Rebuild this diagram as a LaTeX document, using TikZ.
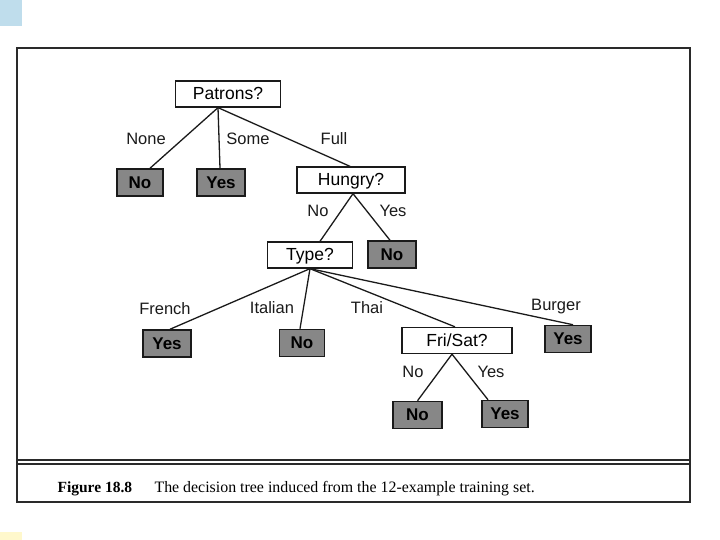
\documentclass[tikz,border=0pt]{standalone}
\usepackage{fontspec}
\setmainfont{Liberation Serif}
\setsansfont{Liberation Sans}
\usetikzlibrary{positioning}
\definecolor{ink}{HTML}{1A1A1A}
\definecolor{leafgray}{HTML}{878787}
\definecolor{framec}{HTML}{2A2A2A}
\definecolor{corner}{HTML}{BFDDEC}
\definecolor{cornery}{HTML}{FFF8CC}

\begin{document}
\begin{tikzpicture}[
  x=1pt, y=-1pt,
  font=\sffamily\fontsize{16.5}{18}\selectfont,
  qbox/.style={draw=ink, fill=white, line width=1.3pt, inner sep=0pt,
               minimum width=#1, minimum height=26pt,
               text height=12.5pt, text depth=1pt,
               font=\sffamily\fontsize{17.5}{19}\selectfont},
  leaf/.style={draw=ink, fill=leafgray, line width=1.5pt, inner sep=0pt,
               minimum width=#1, minimum height=27pt,
               text height=12.5pt, text depth=1pt,
               font=\sffamily\bfseries\fontsize{17}{19}\selectfont},
  lbl/.style={anchor=base, text=ink},
  edge/.style={ink, line width=1.3pt},
]
\useasboundingbox (0,0) rectangle (720,540);

% ─── page corners ───────────────────────────────────────────────────────────
\fill[corner]  (0,0) rectangle (22,26);
\fill[cornery] (0,532) rectangle (22,540);

% ─── figure frame + caption ─────────────────────────────────────────────────
\draw[framec, line width=1.4pt] (17,48) rectangle (690,502);
\draw[framec, line width=1.2pt] (17,460) -- (690,460);
\draw[framec, line width=1.2pt] (17,464) -- (690,464);
\node[anchor=base west, font=\rmfamily\bfseries\fontsize{15.5}{17}\selectfont] (fig) at (54,492) {Figure 18.8};
\node[anchor=base west, font=\rmfamily\fontsize{15.9}{17}\selectfont] (cap) at (151,492)
      {The decision tree induced from the 12-example training set.};

% ─── tree nodes ─────────────────────────────────────────────────────────────
\node[qbox=105pt] (patrons) at (228,94)    {Patrons?};
\node[leaf=46pt]  (none)    at (140,182.5) {No};
\node[leaf=48pt]  (some)    at (221,182.5) {Yes};
\node[qbox=108pt] (hungry)  at (351,180)   {Hungry?};
\node[qbox=85pt]  (type)    at (310,255)   {Type?};
\node[leaf=48pt]  (full)    at (392,254.5) {No};
\node[leaf=48pt]  (french)  at (167,343.5) {Yes};
\node[leaf=45pt]  (italian) at (302,343)   {No};
\node[qbox=110pt] (frisat)  at (457,340.5) {Fri/Sat?};
\node[leaf=46pt]  (burger)  at (568,339)   {Yes};
\node[leaf=49pt]  (fsno)    at (417.5,415) {No};
\node[leaf=46pt]  (fsyes)   at (505,414)   {Yes};

% ─── branches ───────────────────────────────────────────────────────────────
\draw[edge] ([xshift=-10pt]patrons.south) -- ([xshift=10pt]none.north);
\draw[edge] ([xshift=-10pt]patrons.south) -- ([xshift=-1pt]some.north);
\draw[edge] ([xshift=-10pt]patrons.south) -- ([xshift=-1pt]hungry.north);

\draw[edge] ([xshift=2pt]hungry.south) -- ([xshift=10pt]type.north);
\draw[edge] ([xshift=2pt]hungry.south) -- ([xshift=-2pt]full.north);

\draw[edge] (type.south) -- ([xshift=3pt]french.north);
\draw[edge] (type.south) -- ([xshift=-2pt]italian.north);
\draw[edge] (type.south) -- ([xshift=-2pt]frisat.north);
\draw[edge] (type.south) -- ([xshift=5pt]burger.north);

\draw[edge] ([xshift=-5pt]frisat.south) -- (fsno.north);
\draw[edge] ([xshift=-5pt]frisat.south) -- ([xshift=-17pt]fsyes.north);

% ─── branch labels ──────────────────────────────────────────────────────────
\node[lbl] (lnone)  at (146,145) {None};
\node[lbl] (lsome)  at (248,145) {Some};
\node[lbl] (lfull)  at (334,145) {Full};
\node[lbl] (lhno)   at (318,217) {No};
\node[lbl] (lhyes)  at (393,217) {Yes};
\node[lbl] (lfr)    at (165,314) {French};
\node[lbl] (lit)    at (272,313) {Italian};
\node[lbl] (lth)    at (367,313) {Thai};
\node[lbl] (lbu)    at (556,310) {Burger};
\node[lbl] (lfsno)  at (413,377) {No};
\node[lbl] (lfsyes) at (491,377) {Yes};

\end{tikzpicture}
\end{document}
